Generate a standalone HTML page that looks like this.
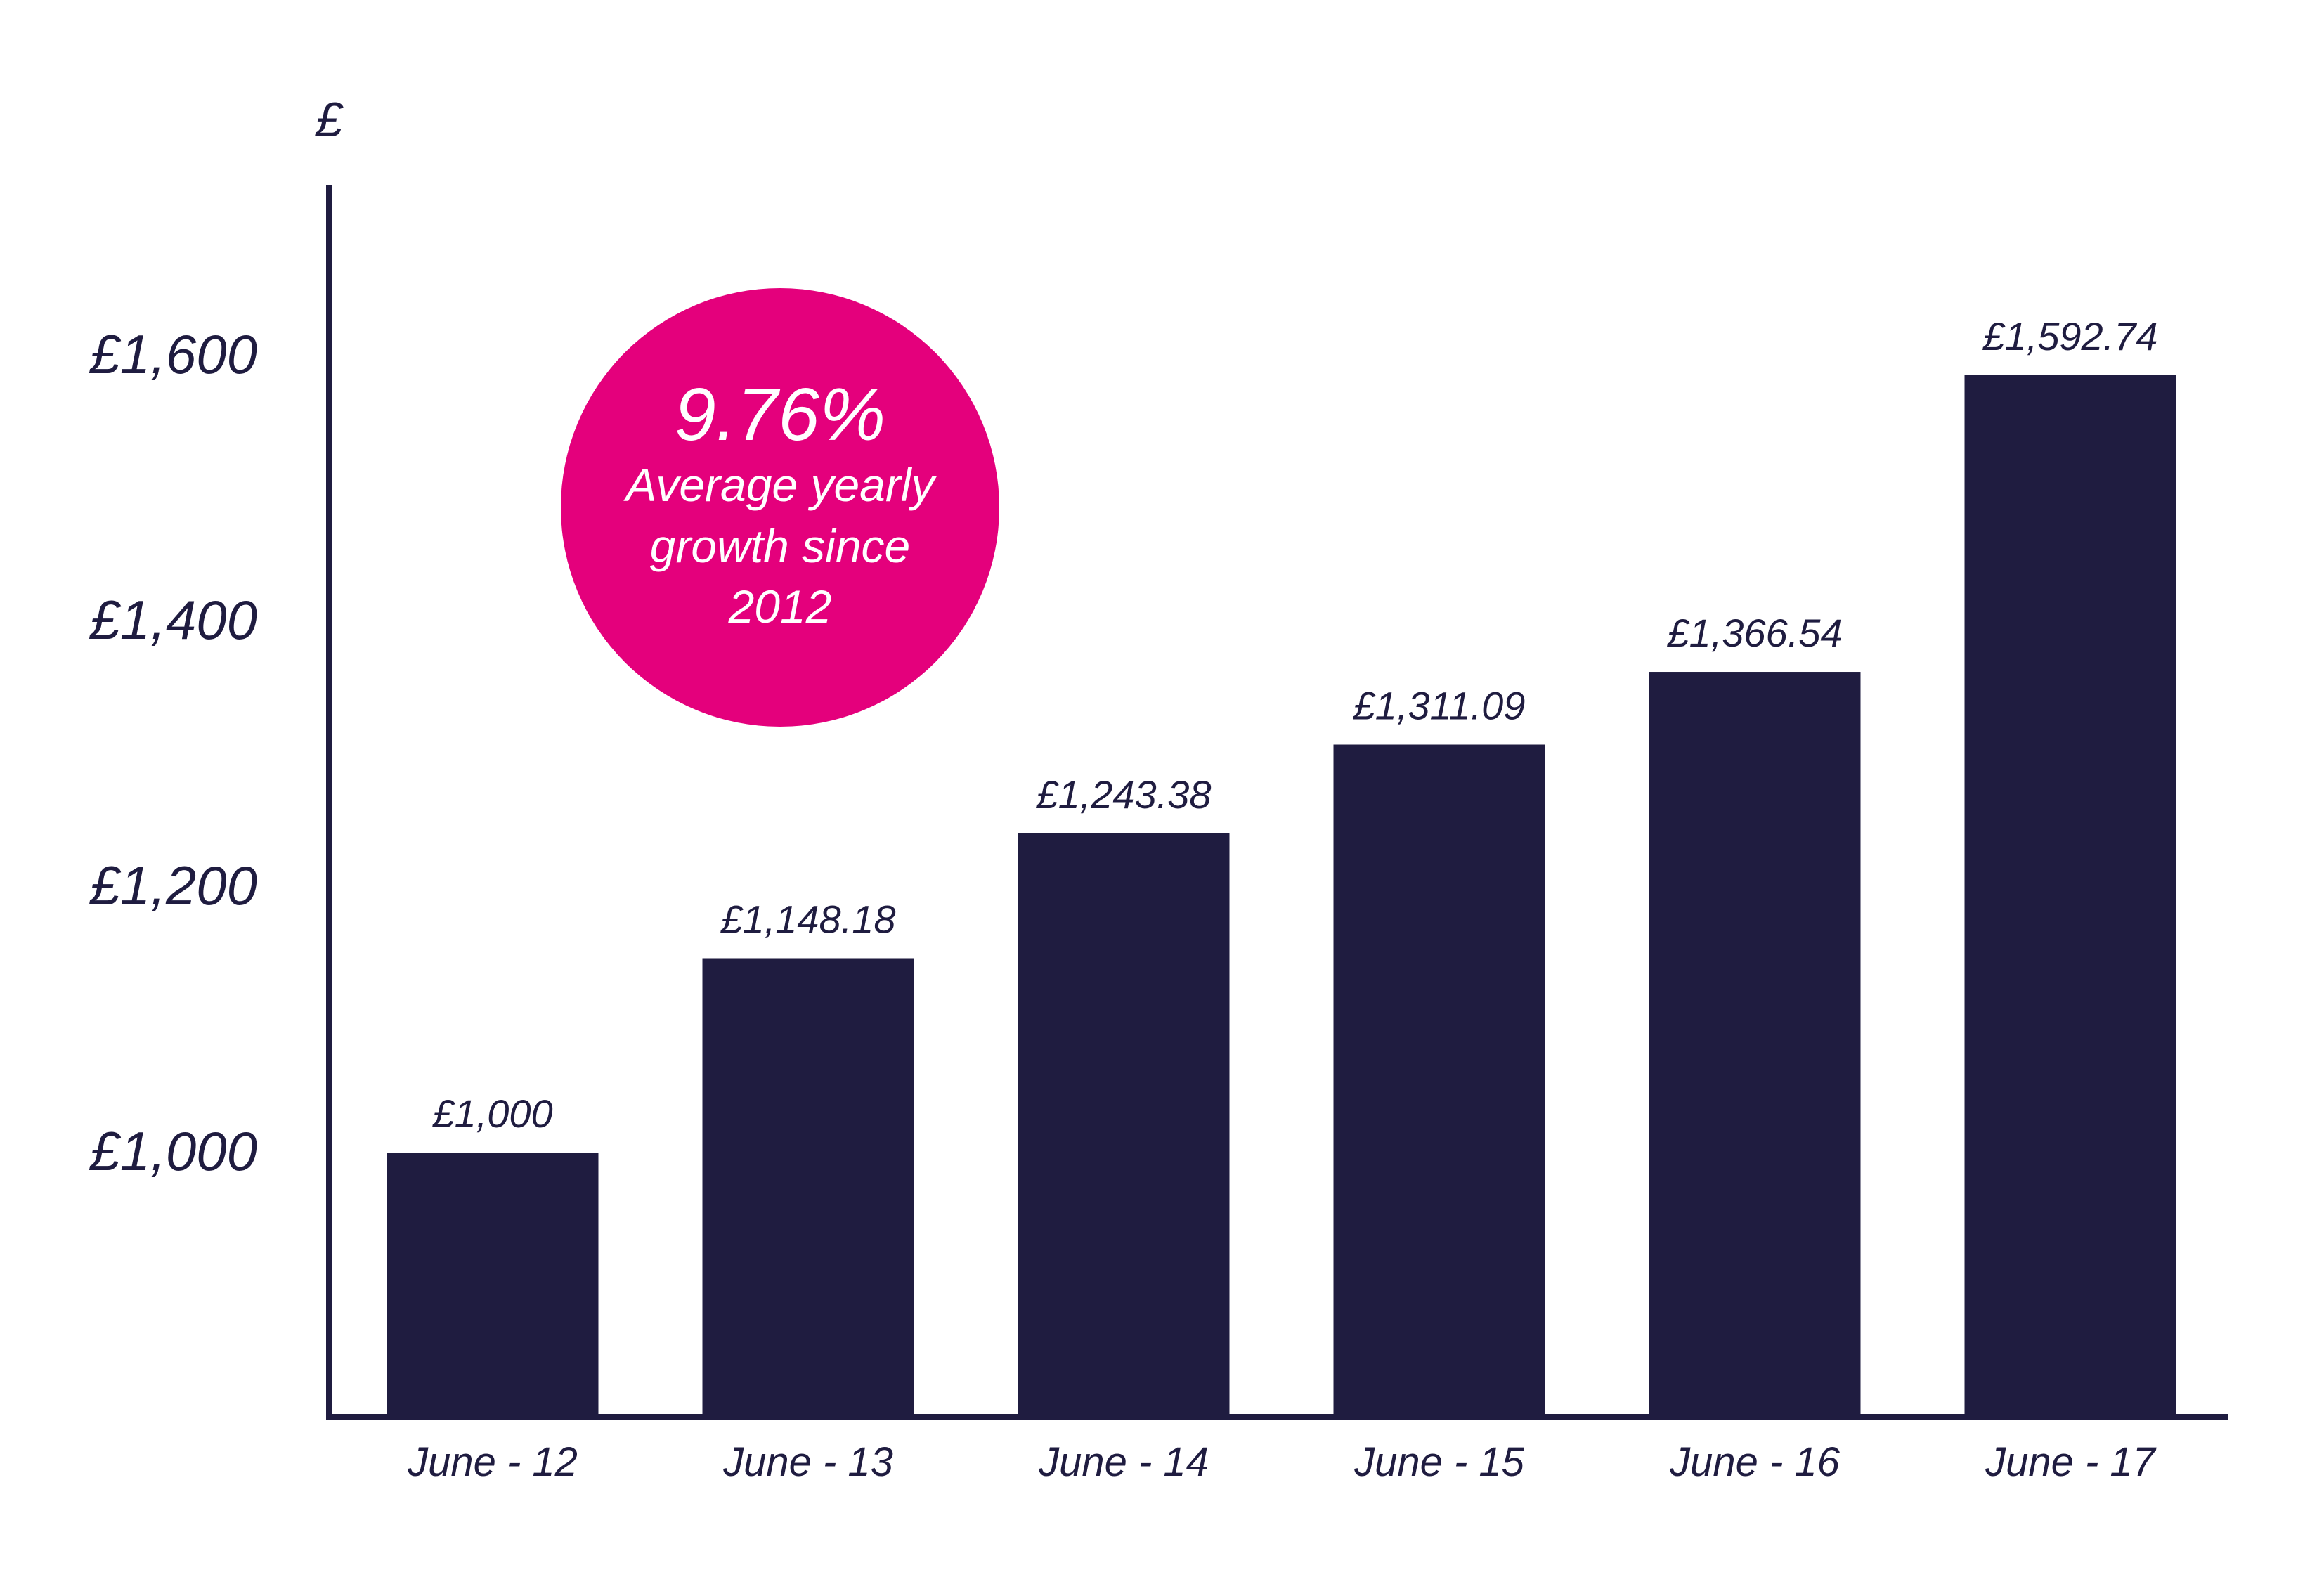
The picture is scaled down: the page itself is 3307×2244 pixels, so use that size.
<!DOCTYPE html>
<html><head><meta charset="utf-8"><style>
html,body{margin:0;padding:0;background:#fff;}
svg{display:block;}
text{font-family:"Liberation Sans",sans-serif;font-style:italic;fill:#1f1c40;}
</style></head><body>
<svg id="chart" width="3307" height="2244" viewBox="0 0 3307 2244">
<g id="axes">
<text x="468" y="194" font-size="70" text-anchor="middle" font-style="normal">£</text>
<line x1="468" y1="263" x2="468" y2="2020" stroke="#1f1c40" stroke-width="8"/>
<line x1="464" y1="2016" x2="3170" y2="2016" stroke="#1f1c40" stroke-width="8"/>
</g>
<g id="ticks"></g>
<g id="bars"></g>
<g>
<circle cx="1110" cy="722" r="312" fill="#e4007c"/>
<text x="1110" y="626" font-size="106" text-anchor="middle" style="fill:#fff">9.76%</text>
<text x="1110" y="713" font-size="66" text-anchor="middle" style="fill:#fff">Average yearly</text>
<text x="1110" y="800" font-size="66" text-anchor="middle" style="fill:#fff">growth since</text>
<text x="1110" y="886" font-size="66" text-anchor="middle" style="fill:#fff">2012</text>
</g>
</svg>
<script>
const categories = ["June - 12","June - 13","June - 14","June - 15","June - 16","June - 17"];
const values = [1000, 1148.18, 1243.38, 1311.09, 1366.54, 1592.74];
const valueLabels = ["£1,000","£1,148.18","£1,243.38","£1,311.09","£1,366.54","£1,592.74"];
const tickValues = [1000, 1200, 1400, 1600];
const tickLabels = ["£1,000","£1,200","£1,400","£1,600"];

const NS = "http://www.w3.org/2000/svg";
const baseY = 2016;
function y(v){ return 1640 - (v - 1000) * 1.866; }
function tickY(v){ return 1665 - (v - 1000) * 1.89; }
function xCenter(i){ return 701 + i * 449; }
const barW = 301;

const ticksG = document.getElementById("ticks");
tickValues.forEach((v, i) => {
  const t = document.createElementNS(NS, "text");
  t.setAttribute("x", 366);
  t.setAttribute("y", tickY(v));
  t.setAttribute("font-size", "78");
  t.setAttribute("text-anchor", "end");
  t.textContent = tickLabels[i];
  
  
  ticksG.appendChild(t);
});

const barsG = document.getElementById("bars");
values.forEach((v, i) => {
  const top = y(v);
  const r = document.createElementNS(NS, "rect");
  r.setAttribute("x", xCenter(i) - barW / 2);
  r.setAttribute("y", top);
  r.setAttribute("width", barW);
  r.setAttribute("height", baseY - top);
  r.setAttribute("fill", "#1f1c40");
  
  
  barsG.appendChild(r);

  const lbl = document.createElementNS(NS, "text");
  lbl.setAttribute("x", xCenter(i));
  lbl.setAttribute("y", top - 36);
  lbl.setAttribute("font-size", "56");
  lbl.setAttribute("text-anchor", "middle");
  lbl.textContent = valueLabels[i];
  
  
  barsG.appendChild(lbl);

  const c = document.createElementNS(NS, "text");
  c.setAttribute("x", xCenter(i));
  c.setAttribute("y", 2100);
  c.setAttribute("font-size", "58");
  c.setAttribute("text-anchor", "middle");
  c.textContent = categories[i];
  
  
  barsG.appendChild(c);
});
</script>
</body></html>
